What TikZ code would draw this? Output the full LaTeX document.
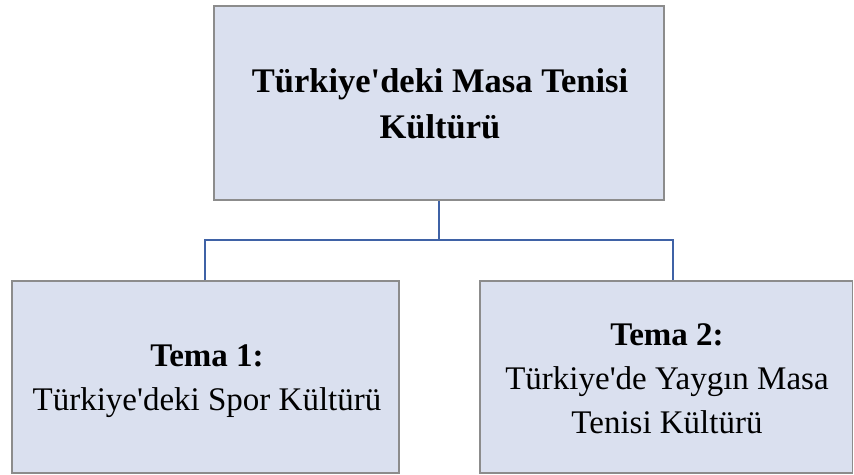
\documentclass[tikz,border=0pt]{standalone}
\usepackage{fontspec}
\setmainfont{Liberation Serif}
\definecolor{boxfill}{HTML}{DAE0EF}
\definecolor{boxline}{HTML}{8C8C8C}
\definecolor{linkblue}{HTML}{3F62A6}
\newcommand{\apos}{\textquotesingle}
\begin{document}
\begin{tikzpicture}[x=1pt,y=-1pt,
  box/.style={draw=boxline, line width=1.5pt, fill=boxfill, inner sep=0pt, rectangle},
  link/.style={draw=linkblue, line width=2.4pt, line join=miter},
  txt/.style={align=center, anchor=base, inner sep=0pt, font=\fontsize{33}{44}\selectfont}]
\useasboundingbox (0,0) rectangle (854,474);
\node[box, minimum width=450pt, minimum height=194pt] (topbox) at (439,103) {};
\node[box, minimum width=387pt, minimum height=192pt] (lbox) at (205.5,377) {};
\node[box, minimum width=372.5pt, minimum height=192pt] (rbox) at (666.25,377) {};
\node[txt, font=\fontsize{34.5}{46}\selectfont\bfseries] (top) at (440,138) {Türkiye\apos deki Masa Tenisi\\Kültürü};
\node[txt] (t1) at (207,410) {\textbf{Tema 1:}\\Türkiye\apos deki Spor Kültürü};
\node[txt] (t2) at (667,433) {\textbf{Tema 2:}\\Türkiye\apos de Yaygın Masa\\Tenisi Kültürü};
\coordinate (m) at (439,240);
\coordinate (l) at (205,240);
\coordinate (r) at (673,240);
\coordinate (rb) at ([xshift=6.75pt]rbox.north);
\draw[link] (topbox.south) -- (m);
\draw[link] (lbox.north -| l) -- (l) -- (r) -- (rb);
\end{tikzpicture}
\end{document}
